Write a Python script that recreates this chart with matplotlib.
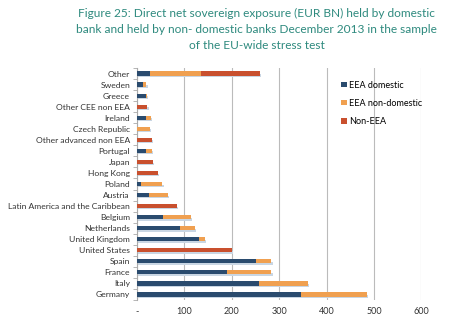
import numpy as np
import matplotlib
matplotlib.use('Agg')
import matplotlib.pyplot as plt
from matplotlib.ticker import FuncFormatter

# categories top to bottom as in the chart
countries = ['Other', 'Sweden', 'Greece', 'Other CEE non EEA', 'Ireland',
             'Czech Republic', 'Other advanced non EEA', 'Portugal', 'Japan',
             'Hong Kong', 'Poland', 'Austria', 'Latin America and the Caribbean',
             'Belgium', 'Netherlands', 'United Kingdom', 'United States',
             'Spain', 'France', 'Italy', 'Germany']
eea_domestic = [27, 13, 20, 0, 18, 0, 0, 19, 0, 0, 9, 25, 0, 54, 91, 131, 0,
                251, 189, 257, 346]
eea_non_domestic = [108, 7, 1, 0, 11, 27, 0, 12, 0, 0, 44, 40, 0, 60, 31, 12, 0,
                    32, 94, 103, 139]
non_eea = [124, 0, 0, 22, 0, 0, 31, 0, 33, 44, 0, 0, 84, 0, 0, 0, 200,
           0, 0, 0, 0]

plt.rcParams['font.family'] = ['Lato', 'DejaVu Sans']

c_dom = '#2A4B6E'
c_non = '#F0A050'
c_red = '#C9502E'
c_shadow = '#C9D6E3'

fig = plt.figure(figsize=(4.5, 3.27), dpi=100)
ax = fig.add_axes([137/450, 1-300/327, (421.3-137)/450, (300-68)/327])

y = np.arange(len(countries))
dom = np.array(eea_domestic)
non = np.array(eea_non_domestic)
red = np.array(non_eea)
total = dom + non + red
h = 0.38

# light shadow under each bar
ax.barh(y + 0.18, total + 3, left=0, height=0.25, color=c_shadow, zorder=2)
ax.barh(y, dom, height=h, color=c_dom, label='EEA domestic', zorder=3)
ax.barh(y, non, left=dom, height=h, color=c_non, label='EEA non-domestic', zorder=3)
ax.barh(y, red, left=dom + non, height=h, color=c_red, label='Non-EEA', zorder=3)

ax.set_xlim(0, 600)
ax.set_ylim(len(countries) - 0.5, -0.5)
ax.set_xticks([0, 100, 200, 300, 400, 500, 600])
ax.xaxis.set_major_formatter(FuncFormatter(lambda v, p: '-' if v == 0 else '%d' % v))
ax.set_yticks(y)
ax.set_yticklabels(countries)
ax.set_yticks(np.arange(len(countries) + 1) - 0.5, minor=True)
ax.tick_params(axis='y', which='major', length=0, labelsize=6.1, pad=5, colors='#333333')
ax.tick_params(axis='y', which='minor', length=3, color='#AAAAAA')
ax.tick_params(axis='x', length=0, labelsize=6.5, pad=5, colors='#333333')
ax.grid(axis='x', color='#BBBBBB', linewidth=0.8, zorder=0)
for s in ['top', 'right', 'bottom']:
    ax.spines[s].set_visible(False)
ax.spines['left'].set_color('#AAAAAA')

leg = ax.legend(loc='upper left', bbox_to_anchor=(0.69, 0.98), frameon=False,
                fontsize=6.5, handlelength=0.6, handleheight=0.6,
                handletextpad=0.3, labelspacing=1.0)

fig.text(0.57, 0.975, 'Figure 25: Direct net sovereign exposure (EUR BN) held by domestic\n'
         'bank and held by non- domestic banks December 2013 in the sample\n'
         'of the EU-wide stress test', ha='center', va='top', fontsize=8.6,
         color='#2E8A7E', linespacing=1.55)

fig.savefig('out.png', dpi=100)
